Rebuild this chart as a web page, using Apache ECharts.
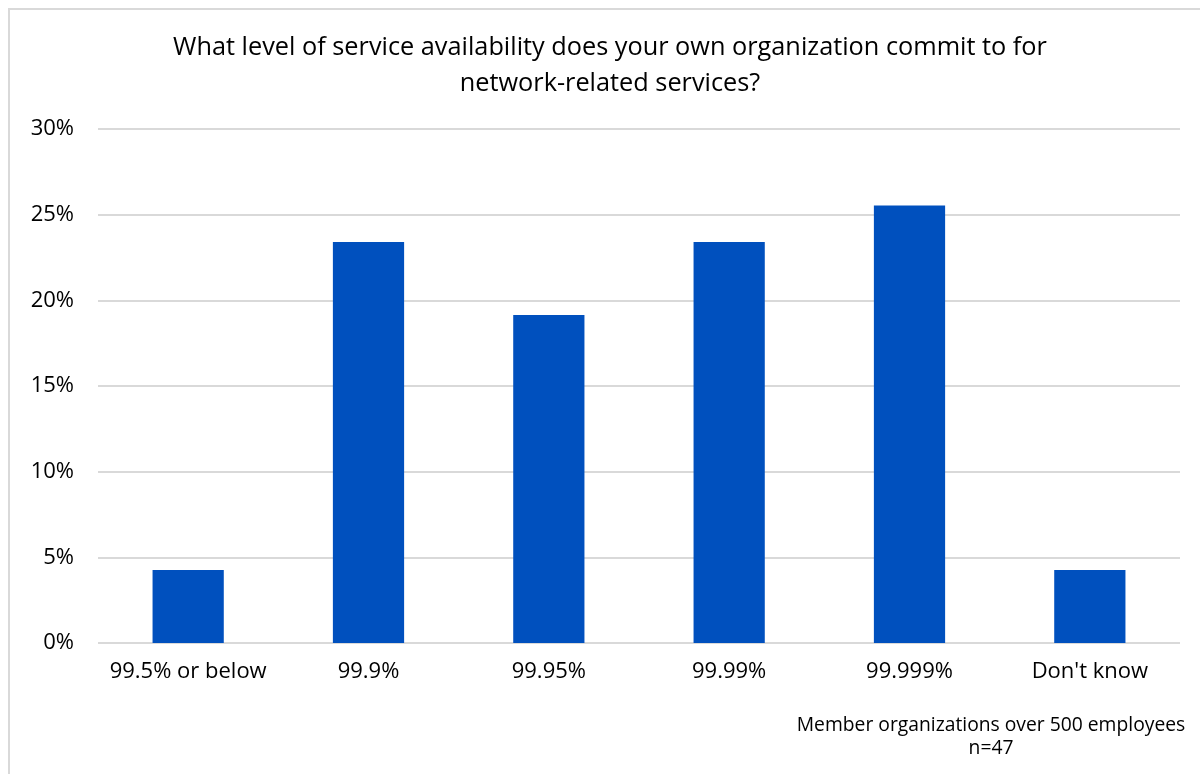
<!DOCTYPE html>
<html>
<head>
<meta charset="utf-8">
<script src="https://cdn.jsdelivr.net/npm/echarts@6/dist/echarts.min.js"></script>
<style>
  html, body { margin: 0; padding: 0; background: #fff; }
  #frame { position: absolute; left: 8px; top: 8px; width: 1200px; height: 780px;
           border: 2px solid #d9d9d9; box-sizing: border-box; }
  #chart { position: absolute; left: 0; top: 0; width: 1200px; height: 774px; }
</style>
</head>
<body>
<div id="frame"></div>
<div id="chart"></div>
<script>
// answer categories
const categories = ['99.5% or below', '99.9%', '99.95%', '99.99%', '99.999%', "Don't know"]
// share of respondents (%), n=47
const shares = [4.26, 23.4, 19.15, 23.4, 25.53, 4.26]
const yTicks = [0, 5, 10, 15, 20, 25, 30]

const fontName = '"Open Sans", sans-serif'

let chart = echarts.init(document.getElementById('chart'))
chart.setOption({
  animation: false,
  graphic: [
    // 标题
    {
      type: 'text',
      x: 610,
      y: 30,
      style: {
        text: 'What level of service availability does your own organization commit to for\nnetwork-related services?',
        fill: '#000',
        font: '25.3px ' + fontName,
        textAlign: 'center',
        textVerticalAlign: 'top',
        lineHeight: 36,
      },
    },
    // 脚注
    {
      type: 'text',
      x: 991,
      y: 714,
      style: {
        text: 'Member organizations over 500 employees\nn=47',
        fill: '#000',
        font: '19.3px ' + fontName,
        textAlign: 'center',
        lineHeight: 23,
      },
    },
  ],
  grid: {
    left: 98,
    right: 20,
    top: 129,
    bottom: 131,
  },
  xAxis: {
    type: 'category',
    data: categories,
    axisLine: { show: false },
    axisTick: { show: false },
    axisLabel: {
      interval: 0,
      color: '#000',
      fontFamily: fontName,
      fontSize: 22,
      margin: 18,
    },
  },
  yAxis: {
    type: 'value',
    min: yTicks[0],
    max: yTicks[yTicks.length - 1],
    interval: 5,
    axisLine: { show: false },
    axisTick: { show: false },
    splitLine: { lineStyle: { color: '#d9d9d9', width: 2 } },
    axisLabel: {
      color: '#000',
      fontFamily: fontName,
      fontSize: 22,
      margin: 24,
      formatter: '{value}%',
    },
  },
  series: [
    {
      type: 'bar',
      data: shares,
      barWidth: '39.5%',
      itemStyle: { color: '#0050be' },
    },
  ],
})
</script>
</body>
</html>
